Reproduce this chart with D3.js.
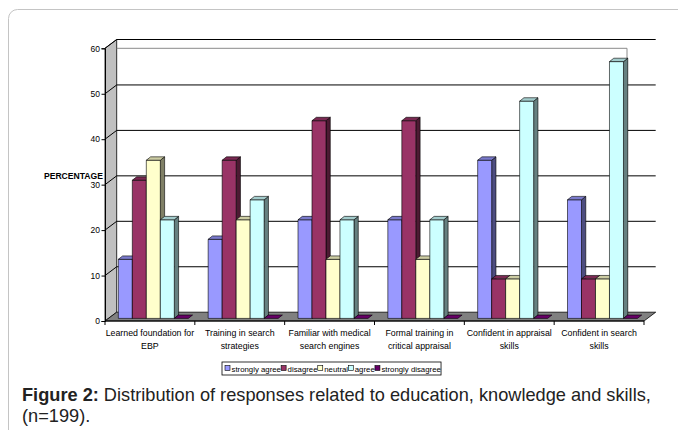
<!DOCTYPE html>
<html>
<head>
<meta charset="utf-8">
<script src="https://cdn.jsdelivr.net/npm/d3@7"></script>
<style>
  html, body { margin: 0; padding: 0; background: #fff; }
  svg { display: block; font-family: Arial, "Liberation Sans", sans-serif; }
</style>
</head>
<body>
<svg id="chart" width="678" height="430"></svg>
<script>
// Survey categories (two-line labels) and response series
const categories = [
  "Learned foundation for|EBP",
  "Training in search|strategies",
  "Familiar with medical|search engines",
  "Formal training in|critical appraisal",
  "Confident in appraisal|skills",
  "Confident in search|skills"
];
const seriesNames = ["strongly agree", "disagree", "neutral", "agree", "strongly disagree"];
const stronglyAgree    = [13.0, 17.4, 21.7, 21.7, 34.8, 26.1];
const disagree         = [30.4, 34.8, 43.5, 43.5,  8.7,  8.7];
const neutral          = [34.8, 21.7, 13.0, 13.0,  8.7,  8.7];
const agree            = [21.7, 26.1, 21.7, 21.7, 47.8, 56.5];
const stronglyDisagree = [ 0.0,  0.0,  0.0,  0.0,  0.0,  0.0];
const yTicks = [0, 10, 20, 30, 40, 50, 60];
const seriesColors = ["#9999FF", "#993366", "#FFFFCC", "#CCFFFF", "#660066"];

const seriesValues = [stronglyAgree, disagree, neutral, agree, stronglyDisagree];

const svg = d3.select("#chart");

// outer rounded frame
svg.append("rect")
  .attr("x", 8.5).attr("y", 9.5)
  .attr("width", 760).attr("height", 480)
  .attr("rx", 9)
  .attr("fill", "none").attr("stroke", "#c4c4c4").attr("stroke-width", 1);

// front-plane scales
const y = d3.scaleLinear().domain([0, 60]).range([321, 48.3]);
const x = d3.scaleBand().domain(categories).range([105, 644]);
const xs = d3.scaleBand().domain(seriesNames).range([0, x.bandwidth()]).paddingOuter(0.71);

// 3D depth offsets: full floor depth, bar front plane and bar thickness
const D = { dx: 11.7, dy: -8.8 };
const F = { dx: 3.4, dy: -2.6 };
const B = { dx: 4.3, dy: -3.4 };

const x0 = x.range()[0], x1 = x.range()[1];
const line = d3.line();

// left side wall
svg.append("path")
  .attr("d", line([[x0, y(0)], [x0, y(60)], [x0 + D.dx, y(60) + D.dy], [x0 + D.dx, y(0) + D.dy]]) + "Z")
  .attr("fill", "#c0c0c0").attr("stroke", "#000").attr("stroke-width", 0.8);

// floor
svg.append("path")
  .attr("d", line([[x0, y(0)], [x0 + D.dx, y(0) + D.dy], [x1 + D.dx, y(0) + D.dy], [x1, y(0)]]) + "Z")
  .attr("fill", "#808080").attr("stroke", "#000").attr("stroke-width", 0.8);

// gridlines on back wall plus their diagonals across the side wall
const grid = svg.append("g");
yTicks.filter(v => v > 0).forEach(v => {
  grid.append("line")
    .attr("x1", x0 + D.dx).attr("x2", x1 + D.dx)
    .attr("y1", y(v) + D.dy).attr("y2", y(v) + D.dy)
    .attr("stroke", "#000").attr("stroke-width", 1);
  grid.append("line")
    .attr("x1", x0).attr("x2", x0 + D.dx)
    .attr("y1", y(v)).attr("y2", y(v) + D.dy)
    .attr("stroke", "#000").attr("stroke-width", 1);
});

// plot area border
svg.append("path")
  .attr("d", line([[x0 + D.dx, y(60)], [x.range()[1] - 17, y(60)], [x.range()[1] - 17, y(0) + F.dy]]))
  .attr("fill", "none").attr("stroke", "#8a8a8a").attr("stroke-width", 1);

function shade(c, k) {
  const r = d3.rgb(c);
  return d3.rgb(r.r * k, r.g * k, r.b * k).formatHex();
}

// 3D columns, drawn left to right so each front face covers the previous side face
const bars = svg.append("g");
categories.forEach((cat, i) => {
  seriesNames.forEach((s, j) => {
    const v = seriesValues[j][i];
    const c = seriesColors[j];
    const L = x(cat) + xs(s) + F.dx;
    const R = L + xs.bandwidth();
    const T = y(v) + F.dy;
    const Bt = y(0) + F.dy;
    const g = bars.append("g").attr("stroke", "#000").attr("stroke-width", 0.6).attr("stroke-linejoin", "round");
    if (v > 0) {
      g.append("path")
        .attr("d", line([[R, T], [R + B.dx, T + B.dy], [R + B.dx, Bt + B.dy], [R, Bt]]) + "Z")
        .attr("fill", shade(c, 0.5));
      g.append("rect")
        .attr("x", L).attr("y", T).attr("width", R - L).attr("height", Bt - T)
        .attr("fill", c);
    }
    g.append("path")
      .attr("d", line([[L, T], [L + B.dx, T + B.dy], [R + B.dx, T + B.dy], [R, T]]) + "Z")
      .attr("fill", v > 0 ? shade(c, 0.8) : c);
  });
});

// value axis
const yAxis = svg.append("g")
  .attr("transform", `translate(${x0},0)`)
  .call(d3.axisLeft(y).tickValues(yTicks).tickSize(3.5).tickPadding(1.5));
yAxis.select(".domain").attr("stroke", "#000").attr("stroke-width", 1);
yAxis.selectAll(".tick line").attr("stroke", "#000");
yAxis.selectAll(".tick text")
  .attr("font-family", "Arial, 'Liberation Sans', sans-serif")
  .attr("font-size", 8.5).attr("fill", "#000");

// category axis: front floor edge with boundary ticks
const xAxis = svg.append("g");
xAxis.append("line")
  .attr("x1", x0).attr("x2", x1).attr("y1", y(0)).attr("y2", y(0))
  .attr("stroke", "#000").attr("stroke-width", 1);
d3.range(categories.length + 1).forEach(k => {
  const xb = x0 + k * x.step();
  xAxis.append("line")
    .attr("x1", xb).attr("x2", xb).attr("y1", y(0)).attr("y2", y(0) + 4)
    .attr("stroke", "#000").attr("stroke-width", 1);
});
categories.forEach(cat => {
  const t = xAxis.append("text")
    .attr("x", x(cat) + x.bandwidth() / 2)
    .attr("y", 336)
    .attr("text-anchor", "middle")
    .attr("font-size", 8.8).attr("fill", "#000");
  cat.split("|").forEach((ln, k) => {
    t.append("tspan").attr("x", x(cat) + x.bandwidth() / 2).attr("dy", k === 0 ? 0 : 12.6).text(ln);
  });
});

// axis title
svg.append("text")
  .attr("x", 103).attr("y", 179)
  .attr("text-anchor", "end")
  .attr("font-size", 8.6).attr("font-weight", "bold").attr("fill", "#000")
  .text("PERCENTAGE");

// legend
const legend = svg.append("g");
const legBox = legend.append("rect")
  .attr("y", 362).attr("height", 13)
  .attr("fill", "#fff").attr("stroke", "#000").attr("stroke-width", 0.8);
let lx = 225;
seriesNames.forEach((s, j) => {
  legend.append("rect")
    .attr("x", lx).attr("y", 365.5).attr("width", 5).attr("height", 5)
    .attr("fill", seriesColors[j]).attr("stroke", "#000").attr("stroke-width", 0.6);
  const t = legend.append("text")
    .attr("x", lx + 6.5).attr("y", 371.5)
    .attr("font-size", 7.8).attr("fill", "#000").text(s);
  lx += 6.5 + t.node().getComputedTextLength() + 0.2;
});
legBox.attr("x", 222).attr("width", lx - 222);

// caption
const cap = svg.append("text")
  .attr("x", 22).attr("y", 401)
  .attr("font-size", 18.2).attr("fill", "#222");
cap.append("tspan").attr("font-weight", "bold").text("Figure 2:");
cap.append("tspan").text(" Distribution of responses related to education, knowledge and skills,");
svg.append("text")
  .attr("x", 22).attr("y", 422)
  .attr("font-size", 18.2).attr("fill", "#222")
  .text("(n=199).");
</script>
</body>
</html>
